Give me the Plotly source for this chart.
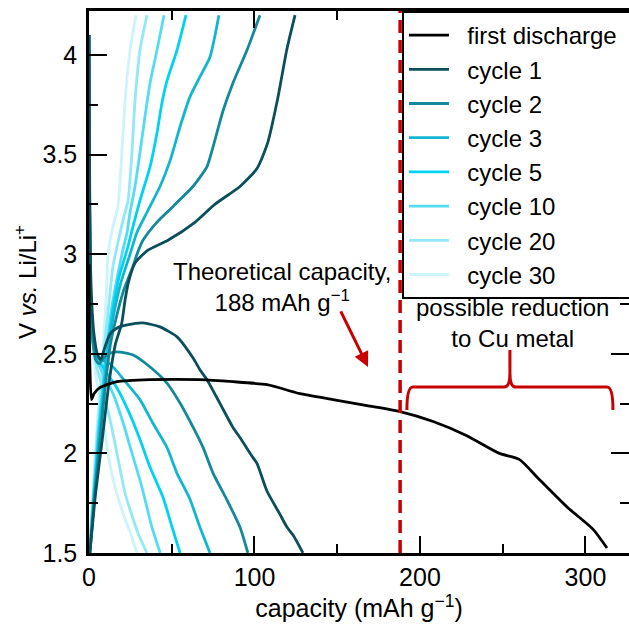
import plotly.graph_objects as go

# ---------------- data ----------------
first_dis_cap = [0, 0.5, 1.5, 3, 6.6, 16.9, 36.9, 67, 87, 107.6, 123, 127.5, 147.4, 168, 188, 208,
                 228, 248, 260, 272, 289, 304.5, 313]
first_dis_v = [2.95, 2.45, 2.27, 2.3, 2.33, 2.36, 2.37, 2.37, 2.36, 2.345, 2.31, 2.30, 2.27, 2.24, 2.21,
               2.16, 2.09, 2.0, 1.97, 1.87, 1.73, 1.62, 1.525]

cyc1_chg_cap = [0.5, 4, 8, 12, 16, 19.7, 21.8, 23.7, 27.8, 35.6, 47.7, 64, 76, 91.2, 101.5, 108, 114, 119.6, 124.5]
cyc1_chg_v = [1.5, 1.8, 2.07, 2.35, 2.55, 2.65, 2.77, 2.855, 2.956, 3.02, 3.07, 3.16, 3.25, 3.34, 3.43, 3.56, 3.78, 4.03, 4.2]
cyc1_dis_cap = [0, 0.3, 0.8, 1.6, 3, 5, 7, 9.5, 12.7, 17, 23, 32.6, 42.9, 53.2, 62.8, 67, 71.3, 79.2, 87, 91.2,
                99, 101.5, 107.6, 115, 119.6, 123.3, 129.3]
cyc1_dis_v = [4.1, 3.5, 3.0, 2.77, 2.6, 2.5, 2.47, 2.53, 2.6, 2.63, 2.645, 2.655, 2.635, 2.585, 2.48, 2.42, 2.37,
              2.25, 2.13, 2.08, 1.98, 1.95, 1.81, 1.70, 1.63, 1.59, 1.5]

cyc2_chg_cap = [0.5, 3.5, 7, 10, 13, 17, 21, 26.6, 29, 32.6, 41, 50.8, 62.8, 71.3, 75, 81, 87, 95.5, 103.3]
cyc2_chg_v = [1.5, 1.8, 2.1, 2.35, 2.55, 2.7, 2.82, 2.94, 3.0, 3.07, 3.16, 3.24, 3.34, 3.44, 3.54, 3.72, 3.86, 4.025, 4.2]
cyc2_dis_cap = [0, 0.3, 0.8, 2, 4, 6, 9, 12, 16.9, 26.6, 36.9, 47.1, 55, 62.8, 68.9, 75, 83.4, 91.2, 96]
cyc2_dis_v = [4.1, 3.4, 2.9, 2.6, 2.47, 2.45, 2.48, 2.5, 2.51, 2.494, 2.434, 2.353, 2.253, 2.133, 2.03, 1.90,
              1.766, 1.63, 1.5]

cyc3_chg_cap = [0.5, 3.5, 6.5, 9.5, 12, 15, 19, 24.8, 29, 35, 42.9, 49, 55, 61, 67, 73.1, 78.5]
cyc3_chg_v = [1.5, 1.8, 2.1, 2.35, 2.55, 2.7, 2.85, 3.0, 3.11, 3.21, 3.34, 3.47, 3.64, 3.79, 3.89, 3.99, 4.2]
cyc3_dis_cap = [0, 0.3, 1, 2.5, 5, 8, 12.7, 23, 30.8, 38.7, 47.1, 53.2, 61, 67, 73.1]
cyc3_dis_v = [4.1, 3.3, 2.8, 2.56, 2.48, 2.47, 2.45, 2.35, 2.27, 2.15, 2.03, 1.90, 1.77, 1.63, 1.5]

cyc5_chg_cap = [0.4, 3, 6, 9, 11.5, 14, 18, 23.6, 26.6, 30.8, 36.9, 41.1, 44.1, 47.1, 53.2, 58.6]
cyc5_chg_v = [1.5, 1.8, 2.1, 2.35, 2.55, 2.7, 2.88, 3.04, 3.14, 3.27, 3.44, 3.61, 3.76, 3.87, 4.025, 4.2]
cyc5_dis_cap = [0, 0.3, 1, 2.5, 5, 8, 11, 16.8, 24.5, 30.8, 36.9, 44.7, 50.2, 55]
cyc5_dis_v = [4.1, 3.3, 2.8, 2.56, 2.47, 2.44, 2.40, 2.33, 2.2, 2.07, 1.93, 1.78, 1.63, 1.5]

cyc10_chg_cap = [0.3, 3, 5.5, 8.5, 11, 13.5, 16.5, 19.9, 23, 24.8, 27.8, 30.8, 33.8, 36.9, 41.1, 45.3]
cyc10_chg_v = [1.5, 1.8, 2.1, 2.35, 2.55, 2.72, 2.86, 3.0, 3.11, 3.21, 3.34, 3.51, 3.69, 3.86, 4.025, 4.2]
cyc10_dis_cap = [0, 0.3, 1, 2.5, 5, 8, 10.5, 14.5, 20, 26, 32, 38, 43]
cyc10_dis_v = [4.1, 3.2, 2.75, 2.55, 2.46, 2.41, 2.37, 2.30, 2.17, 2.0, 1.83, 1.63, 1.5]

cyc20_chg_cap = [0.2, 2.5, 5, 7.5, 9.5, 12, 14.5, 17.5, 20.5, 23.6, 26, 27.8, 30.8, 35]
cyc20_chg_v = [1.5, 1.8, 2.1, 2.35, 2.55, 2.75, 2.94, 3.06, 3.17, 3.27, 3.52, 3.77, 4.025, 4.2]
cyc20_dis_cap = [0, 0.3, 1, 2.5, 5, 7.5, 9.5, 12.7, 16.9, 21.8, 29.6, 35]
cyc20_dis_v = [4.1, 3.2, 2.75, 2.55, 2.42, 2.35, 2.28, 2.17, 2.0, 1.80, 1.6, 1.5]

cyc30_chg_cap = [0.2, 2.5, 4.5, 7, 9, 10.5, 11.5, 14.5, 17.5, 19.9, 21.8, 24.8, 28.4]
cyc30_chg_v = [1.5, 1.8, 2.1, 2.35, 2.6, 2.8, 3.0, 3.14, 3.24, 3.52, 3.77, 4.025, 4.2]
cyc30_dis_cap = [0, 0.3, 1, 2, 4, 6, 8.5, 11.5, 15.7, 21.8, 25, 29]
cyc30_dis_v = [4.1, 3.1, 2.7, 2.55, 2.4, 2.3, 2.17, 2.0, 1.83, 1.67, 1.6, 1.5]

cycle_names = ["cycle 1", "cycle 2", "cycle 3", "cycle 5", "cycle 10", "cycle 20", "cycle 30"]
cycle_colors = ["#0b4f5c", "#138a9c", "#13b6d2", "#00d2f2", "#55dcf5", "#93e8f8", "#cdf4fb"]
cycle_chg = [(cyc1_chg_cap, cyc1_chg_v), (cyc2_chg_cap, cyc2_chg_v), (cyc3_chg_cap, cyc3_chg_v),
             (cyc5_chg_cap, cyc5_chg_v), (cyc10_chg_cap, cyc10_chg_v), (cyc20_chg_cap, cyc20_chg_v),
             (cyc30_chg_cap, cyc30_chg_v)]
cycle_dis = [(cyc1_dis_cap, cyc1_dis_v), (cyc2_dis_cap, cyc2_dis_v), (cyc3_dis_cap, cyc3_dis_v),
             (cyc5_dis_cap, cyc5_dis_v), (cyc10_dis_cap, cyc10_dis_v), (cyc20_dis_cap, cyc20_dis_v),
             (cyc30_dis_cap, cyc30_dis_v)]

THEORETICAL_CAP = 188
BRACE_RANGE = [192.1, 316.6]
X_RANGE = [0, 326.3]
Y_RANGE = [1.5, 4.221]

FONT = "Liberation Sans, Arial, sans-serif"
RED = "#c80000"
PAD_L = "\u00a0\u00a0"
PAD_R = "\u00a0" * 6

fig = go.Figure()

# draw lightest cycles first so darker ones lie on top
for i in reversed(range(len(cycle_names))):
    (cx, cv), (dx, dv) = cycle_chg[i], cycle_dis[i]
    fig.add_trace(go.Scatter(
        x=list(cx) + [None] + list(dx), y=list(cv) + [None] + list(dv),
        mode="lines", name=PAD_L + cycle_names[i] + PAD_R,
        line=dict(color=cycle_colors[i], width=2.8, shape="spline", smoothing=0.6),
        legendrank=i + 2, legendgroup=cycle_names[i]))

fig.add_trace(go.Scatter(
    x=first_dis_cap, y=first_dis_v, mode="lines", name=PAD_L + "first discharge" + PAD_R,
    line=dict(color="black", width=2.8, shape="spline", smoothing=0.6),
    legendrank=1, legendgroup="first"))

# invisible trace to activate right-hand mirror tick axis
fig.add_trace(go.Scatter(x=first_dis_cap, y=first_dis_v, yaxis="y2", mode="lines",
                         line=dict(width=0), opacity=0, showlegend=False, hoverinfo="skip"))

# theoretical capacity dashed line
fig.add_shape(type="line", xref="x", yref="paper", x0=THEORETICAL_CAP, x1=THEORETICAL_CAP, y0=0, y1=1,
              line=dict(color=RED, width=3.5, dash="13px,7px"), layer="above")

# brace
bl, br = BRACE_RANGE
bm = (bl + br) / 2
yb, yt, yp = 2.218, 2.333, 2.519
r = 3.6
brace = (f"M {bl},{yb} Q {bl},{yt} {bl + r},{yt} L {bm - r},{yt} Q {bm},{yt} {bm},{yt + 0.07} "
         f"L {bm},{yp} L {bm},{yt + 0.07} Q {bm},{yt} {bm + r},{yt} L {br - r},{yt} Q {br},{yt} {br},{yb}")
fig.add_shape(type="path", xref="x", yref="y", path=brace, line=dict(color=RED, width=3))

fig.add_annotation(x=116.6, y=2.835, xref="x", yref="y", showarrow=False,
                   text="Theoretical capacity,<br>188 mAh g<sup>\u22121</sup>",
                   font=dict(family=FONT, size=24, color="black"))
fig.add_annotation(x=168.6, y=2.434, xref="x", yref="y", showarrow=True, text="",
                   ax=-28, ay=-57, arrowcolor=RED, arrowwidth=3, arrowhead=2, arrowsize=1)
fig.add_annotation(x=255.6, y=2.655, xref="x", yref="y", showarrow=False,
                   text="possible reduction<br>to Cu metal",
                   font=dict(family=FONT, size=24, color="black"))

fig.update_layout(
    width=629, height=629,
    margin=dict(l=89, r=0, t=11, b=76, autoexpand=False),
    paper_bgcolor="white", plot_bgcolor="white",
    font=dict(family=FONT, size=22, color="black"),
    showlegend=True,
    legend=dict(x=0.5796, y=1, xanchor="left", yanchor="top", bgcolor="white",
                bordercolor="black", borderwidth=2, font=dict(size=24, family=FONT),
                tracegroupgap=0, itemwidth=40),
    xaxis=dict(range=X_RANGE, showgrid=False, zeroline=False, showline=True, linecolor="black",
               linewidth=2.5, mirror="ticks", ticks="inside", ticklen=17, tickwidth=2, tickcolor="black",
               dtick=100, tick0=0, tickfont=dict(size=25), automargin=False,
               minor=dict(ticks="inside", ticklen=9, tickwidth=2, dtick=50, tickcolor="black"),
               title=dict(text="capacity (mAh g<sup>\u22121</sup>)", font=dict(size=25), standoff=8)),
    yaxis=dict(range=Y_RANGE, showgrid=False, zeroline=False, showline=True, linecolor="black",
               linewidth=2.5, ticks="inside", ticklen=18, tickwidth=2, tickcolor="black",
               dtick=0.5, tick0=1.5, tickfont=dict(size=25), ticklabelstandoff=4, automargin=False,
               minor=dict(ticks="inside", ticklen=9, tickwidth=2, dtick=0.25, tickcolor="black"),
               title=dict(text="V <i>vs.</i> Li/Li<sup>+</sup>", font=dict(size=24), standoff=0)),
    yaxis2=dict(range=Y_RANGE, overlaying="y", side="right", showgrid=False, zeroline=False,
                showline=False, showticklabels=False, ticks="inside", ticklen=18, tickwidth=2,
                tickcolor="black", dtick=0.5, tick0=1.5, automargin=False,
                minor=dict(ticks="inside", ticklen=9, tickwidth=2, dtick=0.25, tickcolor="black")),
)

fig.write_html("out.html")
